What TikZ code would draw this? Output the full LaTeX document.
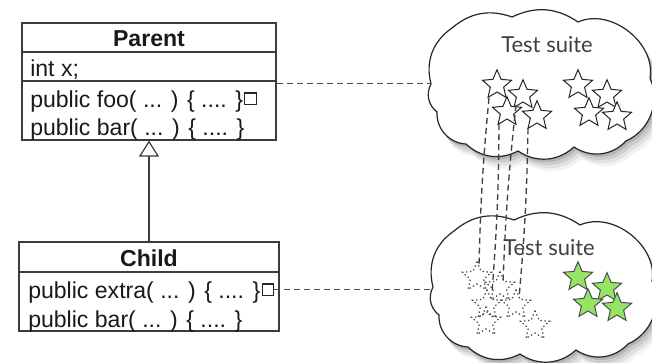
\documentclass[tikz,border=0pt]{standalone}
\usepackage{fontspec}
\setmainfont{Liberation Sans}
\newfontfamily\cloudfont{Lato}
\usetikzlibrary{shapes.geometric, arrows.meta}
\definecolor{stargreen}{RGB}{150,228,100}
\definecolor{umlline}{RGB}{60,60,60}
\newcommand\mycloudoutline{(431,84) to[bend left=35] (452,28) to[bend left=30] (512,17) to[bend left=30] (578,22)
  to[bend left=62] (650,78) to[bend left=45] (626,141) to[bend left=40] (574,147) to[bend left=38] (518,151)
  to[bend left=35] (466,144) to[bend left=45] (437,112) to[bend left=40] (431,84) -- cycle}
\begin{document}
\begin{tikzpicture}[x=0.75pt,y=-0.75pt,
  umlbox/.style={draw=umlline, line width=0.9pt, inner sep=0pt},
  umltext/.style={inner sep=0pt, anchor=base west, font=\fontsize{17.3}{20}\selectfont, text=black!90},
  umlhead/.style={inner sep=0pt, anchor=base, font=\fontsize{17.3}{20}\selectfont\bfseries, text=black!90},
  portsq/.style={draw=black!85, line width=0.8pt, minimum size=8.6pt, inner sep=0pt, anchor=south west},
  dashline/.style={draw=black!70, line width=1pt, dash pattern=on 4.5pt off 3pt},
  vdash/.style={draw=black!75, line width=1pt, dash pattern=on 4.5pt off 3pt},
  suitetitle/.style={font=\cloudfont\fontsize{16.5}{18}\selectfont, text=black!75, inner sep=0pt},
  whitestar/.style={star, star points=5, star point ratio=2.2, minimum size=23pt, inner sep=0pt, draw=black!85, line width=0.75pt, fill=white},
  greenstar/.style={whitestar, fill=stargreen, draw=black!70},
  ghoststar/.style={star, star points=5, star point ratio=2.2, minimum size=23pt, inner sep=0pt, draw=black!75, line width=0.9pt, dash pattern=on 1pt off 2pt}
]
\useasboundingbox (0,0) rectangle (652,362);
\clip (0,0) rectangle (652,362);

% ---------- clouds ----------
\foreach \yy/\xx in {0/0, 203/2}{
  \begin{scope}[shift={(\xx,\yy)}]
    \foreach \sx/\sy/\op in {8/12/0.05, 6/9/0.07, 4/6/0.09, 2/3/0.12}{
      \fill[black, opacity=\op, shift={(\sx,\sy)}] \mycloudoutline;
    }
    \filldraw[fill=white, draw=black!85, line width=0.9pt] \mycloudoutline;
  \end{scope}
}
\coordinate (topnotch) at (431,84);
\coordinate (botnotch) at (433,287);
\node[suitetitle] (suite1) at (547,45) {Test suite};
\node[suitetitle] (suite2) at (549,248) {Test suite};

% ---------- Parent ----------
\node[umlbox, minimum width=190.5pt, minimum height=21.75pt] (pname) at (149,37.5) {};
\node[umlbox, minimum width=190.5pt, minimum height=21.75pt] (pattr) at (149,66.5) {};
\node[umlbox, minimum width=190.5pt, minimum height=44.25pt] (pmeth) at (149,110.5) {};
\node[umlhead] (ptitle) at (149,46) {Parent};
\node[umltext] (px) at (30,76) {int x;};
\node[umltext] (pfoo) at (30,107) {public foo( ... ) \{ .... \}};
\node[umltext] (pbar) at (30,135.5) {public bar( ... ) \{ .... \}};
\node[portsq] (pfoosq) at ([shift={(1,-2)}]pfoo.base east) {};

% ---------- Child ----------
\node[umlbox, minimum width=195pt, minimum height=22.5pt] (cname) at (149,257) {};
\node[umlbox, minimum width=195pt, minimum height=44.25pt] (cmeth) at (149,301.5) {};
\node[umlhead] (ctitle) at (149,266) {Child};
\node[umltext] (cextra) at (28,298) {public extra( ... ) \{ .... \}};
\node[umltext] (cbar) at (28,327) {public bar( ... ) \{ .... \}};
\node[portsq] (cextrasq) at ([shift={(1,-2)}]cextra.base east) {};

% inheritance
\draw[draw=umlline, line width=0.9pt, -{Triangle[open, length=12pt, width=15pt, line width=0.9pt]}] (cname.north) -- (pmeth.south);

% ---------- dashed links to clouds ----------
\coordinate (pport) at ([yshift=-1.5pt]pattr.south east);
\draw[dashline] (pport) -- (pport -| topnotch);
\draw[dashline] (cextrasq.east) -- (cextrasq.east -| botnotch);

% ---------- stars ----------
\node[whitestar] (s1) at (497,85) {};
\node[whitestar] (s2) at (523,95) {};
\node[whitestar] (s3) at (507,112) {};
\node[whitestar] (s4) at (537,116) {};
\node[whitestar] (r1) at (578,85) {};
\node[whitestar] (r2) at (607,95) {};
\node[whitestar] (r3) at (589,113) {};
\node[whitestar] (r4) at (617,117) {};

\node[greenstar] (g1) at (578,277) {};
\node[greenstar] (g2) at (607,288) {};
\node[greenstar] (g3) at (588,304) {};
\node[greenstar] (g4) at (617,308) {};

\node[ghoststar] (d1) at (477,277) {};
\node[ghoststar] (d2) at (500,287) {};
\node[ghoststar] (d3) at (487,305) {};
\node[ghoststar] (d4) at (516,305) {};
\node[ghoststar] (d5) at (486,322) {};
\node[ghoststar] (d6) at (535,326) {};

% ---------- moved tests ----------
\draw[vdash] ([shift={(-8,13)}]s1.center) to[bend right=2] ([shift={(2,-11)}]d1.center);
\draw[vdash] ([shift={(-8,12)}]s3.center) to[bend left=2] ([shift={(-8,5)}]d2.center);
\draw[vdash] ([shift={(-7,10)}]s2.center) to[bend right=2] ([shift={(3,-4)}]d2.center);
\draw[vdash] ([shift={(-9,12)}]s4.center) to[bend left=2] ([shift={(3,-7)}]d4.center);
\end{tikzpicture}
\end{document}
